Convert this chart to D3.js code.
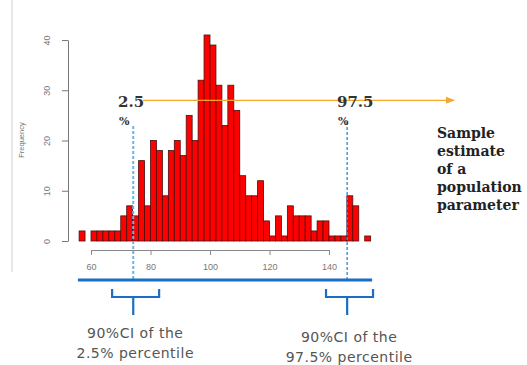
<!DOCTYPE html>
<html>
<head>
<meta charset="utf-8">
<script src="https://cdn.jsdelivr.net/npm/d3@7"></script>
<style>
    body { margin: 0; background: #fff; }
    svg { display: block; }
</style>
</head>
<body>
<div id="chart"></div>
<script>
// histogram bins (left edge, width 2) and counts
const binStarts = [56, 58, 60, 62, 64, 66, 68, 70, 72, 74, 76, 78, 80, 82, 84, 86, 88, 90, 92, 94, 96, 98,
    100, 102, 104, 106, 108, 110, 112, 114, 116, 118, 120, 122, 124, 126, 128, 130, 132, 134, 136, 138,
    140, 142, 144, 146, 148, 150, 152];
const counts = [2, 0, 2, 2, 2, 2, 2, 5, 7, 5, 16, 7, 20, 18, 9, 18, 20, 17, 25, 20, 32, 41,
    39, 31, 23, 31, 26, 13, 9, 9, 12, 4, 1, 5, 1, 7, 5, 5, 5, 2, 4, 4,
    1, 1, 1, 9, 7, 0, 1];
const binWidth = 2;

const xTicks = [60, 80, 100, 120, 140];
const yTicks = [0, 10, 20, 30, 40];

// percentile markers and their confidence brackets
const pctValues = [74.2, 146.1];
const pctLabels = ["2.5", "97.5"];
const ciLow = [67.1, 139];
const ciHigh = [82.9, 154.8];
const ciLines = [["90%CI of the", "2.5% percentile"], ["90%CI of the", "97.5% percentile"]];
const estimateLines = ["Sample", "estimate", "of a", "population", "parameter"];

const width = 527, height = 365;

const svg = d3.select("#chart").append("svg")
    .attr("width", width)
    .attr("height", height);

const x = d3.scaleLinear().domain([60, 140]).range([91, 329]);
const y = d3.scaleLinear().domain([0, 40]).range([241, 40]);

// faint frame line on the left
svg.append("line")
    .attr("x1", 12).attr("x2", 12)
    .attr("y1", 0).attr("y2", 272)
    .attr("stroke", "#d0d0d0").attr("stroke-width", 1);

// bars
svg.append("g").selectAll("rect")
    .data(binStarts.map((b, i) => ({start: b, count: counts[i]})).filter(d => d.count > 0))
    .enter().append("rect")
    .attr("x", d => x(d.start))
    .attr("y", d => y(d.count))
    .attr("width", d => x(d.start + binWidth) - x(d.start))
    .attr("height", d => y(0) - y(d.count))
    .attr("fill", "#ff0000")
    .attr("stroke", "#4a1010")
    .attr("stroke-width", 0.8);

// y axis
let yAxis = svg.append("g")
    .attr("transform", "translate(68,0)")
    .call(d3.axisLeft(y).tickValues(yTicks).tickSize(6).tickSizeOuter(0));
yAxis.select(".domain").attr("stroke", "#777");
yAxis.selectAll(".tick line").attr("stroke", "#777");
yAxis.selectAll(".tick text")
    .attr("fill", "#777")
    .attr("font-family", "Liberation Sans, Arial, sans-serif")
    .attr("font-size", 9)
    .attr("x", 0).attr("dy", 0)
    .attr("text-anchor", "middle")
    .attr("transform", "translate(-18,0) rotate(-90)");

svg.append("text")
    .attr("transform", "translate(24,140) rotate(-90)")
    .attr("text-anchor", "middle")
    .attr("font-family", "Liberation Sans, Arial, sans-serif")
    .attr("font-size", 7.5)
    .attr("fill", "#777")
    .text("Frequency");

// x axis
let xAxis = svg.append("g")
    .attr("transform", "translate(0,250)")
    .call(d3.axisBottom(x).tickValues(xTicks).tickSize(5).tickSizeOuter(0).tickPadding(9));
xAxis.select(".domain").attr("stroke", "#888");
xAxis.selectAll(".tick line").attr("stroke", "#888");
xAxis.selectAll(".tick text")
    .attr("fill", "#777")
    .attr("font-family", "Liberation Sans, Arial, sans-serif")
    .attr("font-size", 9);

// dashed percentile lines
const dashTop = [126, 122];
svg.append("g").selectAll("line")
    .data(pctValues)
    .enter().append("line")
    .attr("x1", d => x(d)).attr("x2", d => x(d))
    .attr("y1", (d, i) => dashTop[i])
    .attr("y2", 279)
    .attr("stroke", (d, i) => i === 0 ? "#6fb4e6" : "#3d8fd6")
    .attr("stroke-width", (d, i) => i === 0 ? 2 : 1.4)
    .attr("stroke-dasharray", "3,2");

// orange arrow for the sample estimate
svg.append("defs").append("marker")
    .attr("id", "arrow")
    .attr("viewBox", "0 0 10 10")
    .attr("refX", 9).attr("refY", 5)
    .attr("markerWidth", 7).attr("markerHeight", 7)
    .attr("orient", "auto")
    .append("path")
    .attr("d", "M0,1 L10,5 L0,9 Z")
    .attr("fill", "#f5a830");

svg.append("line")
    .attr("x1", 143).attr("x2", 454)
    .attr("y1", y(28)).attr("y2", y(28))
    .attr("stroke", "#f5a830")
    .attr("stroke-width", 1.3)
    .attr("marker-end", "url(#arrow)");

// percentile labels
const pctX = [118, 337];
pctLabels.forEach((lab, i) => {
    svg.append("text")
        .attr("x", pctX[i]).attr("y", 107)
        .attr("font-family", "DejaVu Serif, serif")
        .attr("font-weight", "bold")
        .attr("font-size", 15)
        .attr("fill", "#333")
        .text(lab);
    svg.append("text")
        .attr("x", pctX[i] + 1).attr("y", 125)
        .attr("font-family", "DejaVu Serif, serif")
        .attr("font-weight", "bold")
        .attr("font-size", 11)
        .attr("fill", "#333")
        .text("%");
});

// sample estimate note
svg.append("text")
    .attr("font-family", "DejaVu Serif, serif")
    .attr("font-weight", "bold")
    .attr("font-size", 14)
    .attr("fill", "#222")
    .selectAll("tspan")
    .data(estimateLines)
    .enter().append("tspan")
    .attr("x", 437)
    .attr("y", (d, i) => 137.5 + i * 18.2)
    .text(d => d);

// thick blue line under the axis
svg.append("line")
    .attr("x1", x(55.6)).attr("x2", x(154.5))
    .attr("y1", 280).attr("y2", 280)
    .attr("stroke", "#1a6fc4")
    .attr("stroke-width", 3);

// brackets for the confidence intervals
pctValues.forEach((p, i) => {
    let x0 = x(ciLow[i]), x1 = x(ciHigh[i]), xm = x(p);
    svg.append("path")
        .attr("d", `M${x0},289 L${x0},297 L${x1},297 L${x1},289 M${xm},297 L${xm},315`)
        .attr("fill", "none")
        .attr("stroke", "#1a6fc4")
        .attr("stroke-width", 2.2);

    svg.append("text")
        .attr("text-anchor", "middle")
        .attr("font-family", "DejaVu Sans, Verdana, sans-serif")
        .attr("font-size", 14)
        .attr("letter-spacing", 0.5)
        .attr("fill", "#555")
        .selectAll("tspan")
        .data(ciLines[i])
        .enter().append("tspan")
        .attr("x", xm + 2)
        .attr("y", (d, j) => (i === 0 ? 338 : 342) + j * 19.5)
        .text(d => d);
});
</script>
</body>
</html>
